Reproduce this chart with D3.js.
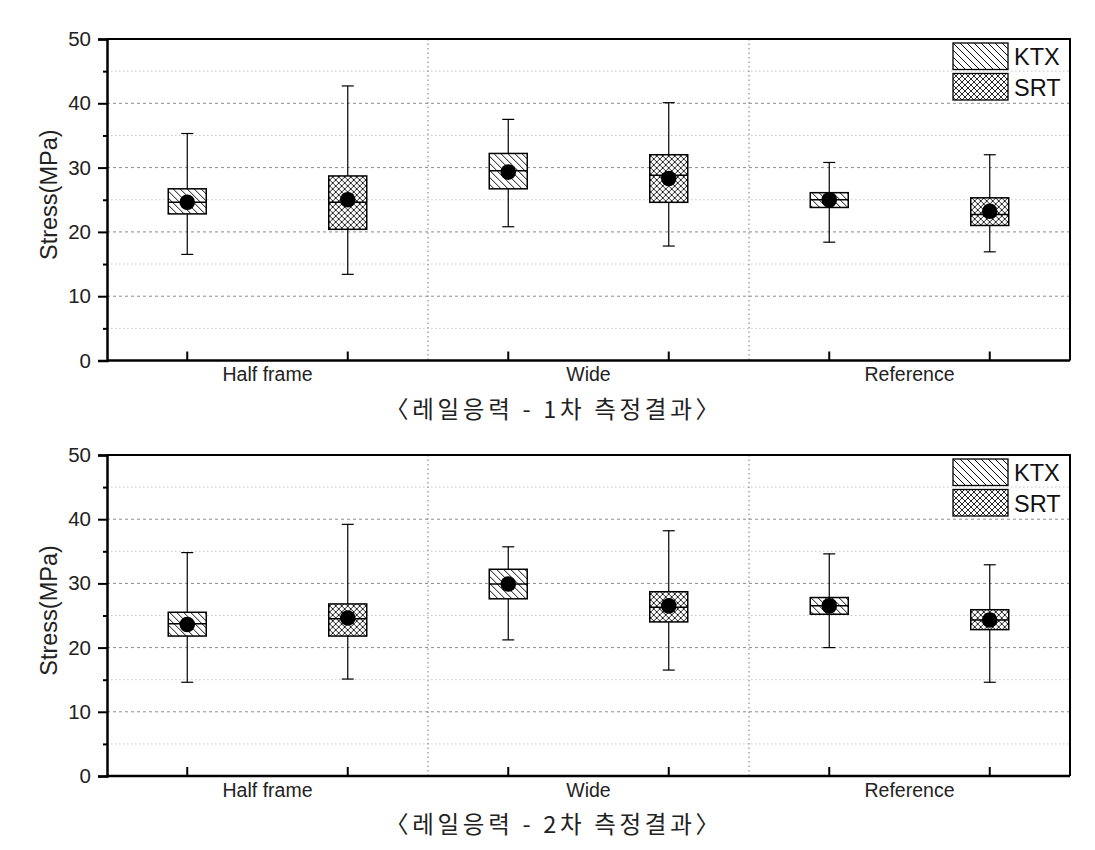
<!DOCTYPE html>
<html><head><meta charset="utf-8">
<script src="https://cdn.jsdelivr.net/npm/d3@7"></script>
<style>body{margin:0;background:#fff}svg{display:block}</style>
</head><body>
<svg id="chart" width="1095" height="850"></svg>
<script>
const categories = ["Half frame", "Wide", "Reference"];
const seriesNames = ["KTX", "SRT"];
const yTicks = [0, 10, 20, 30, 40, 50];
const yMinorTicks = [5, 15, 25, 35, 45];
const captions = ["〈레일응력 - 1차 측정결과〉", "〈레일응력 - 2차 측정결과〉"];

// Round 1
const r1KtxMin = [16.5, 20.8, 18.4], r1KtxQ1 = [22.8, 26.7, 23.8], r1KtxMed = [24.6, 29.5, 25.0],
      r1KtxQ3 = [26.7, 32.2, 26.1], r1KtxMax = [35.3, 37.5, 30.8], r1KtxMean = [24.6, 29.3, 25.0];
const r1SrtMin = [13.4, 17.8, 16.9], r1SrtQ1 = [20.4, 24.6, 21.0], r1SrtMed = [24.6, 28.8, 22.7],
      r1SrtQ3 = [28.7, 32.0, 25.3], r1SrtMax = [42.7, 40.1, 32.0], r1SrtMean = [25.0, 28.3, 23.2];
// Round 2
const r2KtxMin = [14.6, 21.2, 20.0], r2KtxQ1 = [21.8, 27.6, 25.2], r2KtxMed = [23.7, 29.9, 26.5],
      r2KtxQ3 = [25.5, 32.2, 27.8], r2KtxMax = [34.8, 35.7, 34.6], r2KtxMean = [23.6, 29.9, 26.5];
const r2SrtMin = [15.1, 16.5, 14.6], r2SrtQ1 = [21.8, 24.0, 22.8], r2SrtMed = [24.5, 26.3, 24.3],
      r2SrtQ3 = [26.8, 28.7, 25.9], r2SrtMax = [39.2, 38.2, 32.9], r2SrtMean = [24.6, 26.5, 24.3];

function build(minA, q1A, medA, q3A, maxA, meanA, s) {
  return categories.map((c, i) => ({cat: c, series: s, min: minA[i], q1: q1A[i], med: medA[i], q3: q3A[i], max: maxA[i], mean: meanA[i]}));
}
const panels = [
  {top: 39, bottom: 360.5, caption: captions[0],
   data: build(r1KtxMin, r1KtxQ1, r1KtxMed, r1KtxQ3, r1KtxMax, r1KtxMean, "KTX")
     .concat(build(r1SrtMin, r1SrtQ1, r1SrtMed, r1SrtQ3, r1SrtMax, r1SrtMean, "SRT"))},
  {top: 455, bottom: 776, caption: captions[1],
   data: build(r2KtxMin, r2KtxQ1, r2KtxMed, r2KtxQ3, r2KtxMax, r2KtxMean, "KTX")
     .concat(build(r2SrtMin, r2SrtQ1, r2SrtMed, r2SrtQ3, r2SrtMax, r2SrtMean, "SRT"))}
];

const FONT = "Liberation Sans, Arial, sans-serif";
const svg = d3.select("#chart");
const defs = svg.append("defs");
// hatch patterns
const p1 = defs.append("pattern").attr("id", "hatchKTX").attr("patternUnits", "userSpaceOnUse")
  .attr("width", 7).attr("height", 7);
p1.append("rect").attr("width", 7).attr("height", 7).attr("fill", "#fff");
p1.append("path").attr("d", "M-1,-1 L8,8 M-4,3 L4,11 M3,-4 L11,4").attr("stroke", "#111").attr("stroke-width", 1);
const p2 = defs.append("pattern").attr("id", "hatchSRT").attr("patternUnits", "userSpaceOnUse")
  .attr("width", 6).attr("height", 6);
p2.append("rect").attr("width", 6).attr("height", 6).attr("fill", "#fff");
p2.append("path").attr("d", "M-1,-1 L7,7 M-4,2 L2,8 M4,-2 L8,2 M-1,7 L7,-1 M-4,4 L2,-2 M4,8 L8,4").attr("stroke", "#111").attr("stroke-width", 0.9);
const fills = {KTX: "url(#hatchKTX)", SRT: "url(#hatchSRT)"};

const left = 107, right = 1070;
const x0 = d3.scaleBand().domain(categories).range([left, right]).padding(0);
const x1 = d3.scalePoint().domain(seriesNames).range([0, x0.bandwidth()]).padding(0.5);
const boxW = 38, capW = 12;

panels.forEach(p => {
  const y = d3.scaleLinear().domain([0, 50]).range([p.bottom, p.top]);
  const g = svg.append("g");

  // minor grid
  g.selectAll(".minor").data(yMinorTicks).join("line")
    .attr("x1", left).attr("x2", right).attr("y1", d => y(d)).attr("y2", d => y(d))
    .attr("stroke", "#c8c8c8").attr("stroke-width", 1).attr("stroke-dasharray", "1.5,2.5");
  // major grid
  g.selectAll(".major").data(yTicks.filter(t => t > 0 && t < 50)).join("line")
    .attr("x1", left).attr("x2", right).attr("y1", d => y(d)).attr("y2", d => y(d))
    .attr("stroke", "#8a8a8a").attr("stroke-width", 1).attr("stroke-dasharray", "3,3");
  // category dividers
  g.selectAll(".div").data(categories.slice(1)).join("line")
    .attr("x1", d => x0(d)).attr("x2", d => x0(d)).attr("y1", p.top).attr("y2", p.bottom)
    .attr("stroke", "#777").attr("stroke-width", 1).attr("stroke-dasharray", "1.5,3");

  // frame top/right
  g.append("path").attr("d", `M${left},${p.top} H${right} V${p.bottom}`)
    .attr("fill", "none").attr("stroke", "#000").attr("stroke-width", 2);

  // y axis
  const yAxis = d3.axisLeft(y).tickValues(yTicks).tickSize(9).tickPadding(7).tickFormat(d3.format("d"));
  const ya = g.append("g").attr("transform", `translate(${left},0)`).call(yAxis);
  ya.select(".domain").attr("stroke-width", 2.5);
  ya.selectAll(".tick line").attr("stroke-width", 2);
  ya.selectAll("text").attr("font-family", FONT).attr("font-size", 20.5).attr("fill", "#222");
  const yMinorAxis = d3.axisLeft(y).tickValues(yMinorTicks).tickSize(4).tickFormat("");
  const ym = g.append("g").attr("transform", `translate(${left},0)`).call(yMinorAxis);
  ym.select(".domain").remove();
  ym.selectAll(".tick line").attr("stroke-width", 2);

  // x axis
  const xa = g.append("g").attr("transform", `translate(0,${p.bottom})`)
    .call(d3.axisBottom(x0).tickSize(0).tickSizeOuter(0).tickPadding(7));
  xa.select(".domain").attr("d", `M${left},0 H${right}`).attr("stroke-width", 2.5);
  xa.selectAll("text").attr("font-family", FONT).attr("font-size", 19.5).attr("fill", "#222");
  // inward ticks at each box position
  const tickPos = [];
  categories.forEach(c => seriesNames.forEach(s => tickPos.push(x0(c) + x1(s))));
  g.selectAll(".xt").data(tickPos).join("line")
    .attr("x1", d => d).attr("x2", d => d).attr("y1", p.bottom).attr("y2", p.bottom - 9)
    .attr("stroke", "#000").attr("stroke-width", 2);

  // boxes
  const bx = g.selectAll(".box").data(p.data).join("g")
    .attr("transform", d => `translate(${x0(d.cat) + x1(d.series)},0)`);
  bx.append("line").attr("x1", 0).attr("x2", 0).attr("y1", d => y(d.max)).attr("y2", d => y(d.min))
    .attr("stroke", "#000").attr("stroke-width", 1.2);
  bx.append("line").attr("x1", -capW / 2).attr("x2", capW / 2).attr("y1", d => y(d.max)).attr("y2", d => y(d.max))
    .attr("stroke", "#000").attr("stroke-width", 1.2);
  bx.append("line").attr("x1", -capW / 2).attr("x2", capW / 2).attr("y1", d => y(d.min)).attr("y2", d => y(d.min))
    .attr("stroke", "#000").attr("stroke-width", 1.2);
  bx.append("rect").attr("x", -boxW / 2).attr("width", boxW)
    .attr("y", d => y(d.q3)).attr("height", d => y(d.q1) - y(d.q3))
    .attr("fill", d => fills[d.series]).attr("stroke", "#000").attr("stroke-width", 1.5);
  bx.append("line").attr("x1", -boxW / 2).attr("x2", boxW / 2).attr("y1", d => y(d.med)).attr("y2", d => y(d.med))
    .attr("stroke", "#000").attr("stroke-width", 1.5);
  bx.append("circle").attr("cx", 0).attr("cy", d => y(d.mean)).attr("r", 7.8).attr("fill", "#000");

  // y label
  svg.append("text").attr("transform", `translate(57,${(p.top + p.bottom) / 2 - 5}) rotate(-90)`)
    .attr("text-anchor", "middle").attr("font-family", FONT)
    .attr("font-size", 23.5).attr("fill", "#222").text("Stress(MPa)");

  // legend
  const lg = svg.append("g").attr("transform", `translate(953,${p.top + 4})`);
  seriesNames.forEach((s, i) => {
    lg.append("rect").attr("x", 0).attr("y", i * 30.5).attr("width", 55).attr("height", 26.5)
      .attr("fill", fills[s]).attr("stroke", "#000").attr("stroke-width", 1.3);
    lg.append("text").attr("x", 61).attr("y", i * 30.5 + 22).attr("font-family", FONT)
      .attr("font-size", 23.5).attr("fill", "#111").text(s);
  });

  // caption
  svg.append("text").attr("x", 552).attr("y", p.bottom + 57).attr("text-anchor", "middle")
    .attr("font-family", "Noto Sans CJK KR, sans-serif").attr("font-size", 23.5).attr("fill", "#222")
    .attr("textLength", 334).attr("lengthAdjust", "spacing")
    .text(p.caption);
});
</script>
</body></html>
